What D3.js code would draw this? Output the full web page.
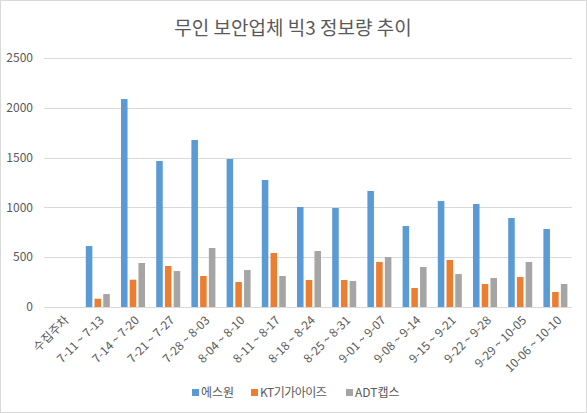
<!DOCTYPE html>
<html>
<head>
<meta charset="utf-8">
<script src="https://cdn.jsdelivr.net/npm/d3@7"></script>
<style>
  html, body { margin: 0; padding: 0; background: #fff; }
  svg { display: block; font-family: "Noto Sans CJK KR", "Noto Sans", sans-serif; }
</style>
</head>
<body>
<div id="chart"></div>
<script>
// weekly volume for the three security companies
const weeks = ["수집주차", "7-11 ~ 7-13", "7-14 ~ 7-20", "7-21 ~ 7-27", "7-28 ~ 8-03", "8-04 ~ 8-10",
  "8-11 ~ 8-17", "8-18 ~ 8-24", "8-25 ~ 8-31", "9-01 ~ 9-07", "9-08 ~ 9-14", "9-15 ~ 9-21",
  "9-22 ~ 9-28", "9-29 ~ 10-05", "10-06 ~ 10-10"];
const seriesNames = ["에스원", "KT기가아이즈", "ADT캡스"];
const s1 = [null, 612, 2088, 1466, 1677, 1486, 1275, 1004, 994, 1165, 813, 1064, 1034, 894, 783];
const kt = [null, 83, 274, 412, 311, 251, 542, 271, 271, 452, 191, 472, 231, 301, 151];
const adt = [null, 130, 442, 361, 592, 371, 311, 562, 261, 502, 402, 331, 291, 452, 231];
const yTicks = [0, 500, 1000, 1500, 2000, 2500];

(function() {
  const width = 587, height = 413;
  const margin = { top: 58, right: 15, bottom: 106, left: 44 };
  const colors = ["#5B9BD5", "#ED7D31", "#A5A5A5"];
  const allSeries = [s1, kt, adt];

  const svg = d3.select("#chart").append("svg")
    .attr("width", width)
    .attr("height", height);

  // chart border
  svg.append("rect")
    .attr("x", 0.5).attr("y", 0.5)
    .attr("width", width - 1).attr("height", height - 1)
    .attr("fill", "#fff")
    .attr("stroke", "#D9D9D9");

  svg.append("text")
    .attr("x", 293)
    .attr("y", 35)
    .attr("text-anchor", "middle")
    .style("font-size", "19px")
    .style("fill", "#595959")
    .text("무인 보안업체 빅3 정보량 추이");

  const x = d3.scaleBand()
    .domain(weeks)
    .range([margin.left, width - margin.right]);

  const y = d3.scaleLinear()
    .domain([0, 2500])
    .range([height - margin.bottom, margin.top]);

  const x1 = d3.scaleBand()
    .domain(d3.range(3))
    .range([0, 24])
    .paddingInner(0.25);

  // gridlines
  svg.append("g")
    .selectAll("line")
    .data(yTicks)
    .join("line")
    .attr("x1", margin.left)
    .attr("x2", width - margin.right)
    .attr("y1", d => Math.round(y(d)) + 0.5)
    .attr("y2", d => Math.round(y(d)) + 0.5)
    .attr("stroke", "#D9D9D9")
    .attr("stroke-width", 1);

  // y labels
  svg.append("g")
    .selectAll("text")
    .data(yTicks)
    .join("text")
    .attr("x", 33)
    .attr("y", d => y(d))
    .attr("dy", "0.35em")
    .attr("text-anchor", "end")
    .style("font-size", "12px")
    .style("fill", "#595959")
    .text(d => d);

  // bars
  const groupOffset = (x.bandwidth() - 24) / 2 + 1;
  allSeries.forEach((vals, si) => {
    svg.append("g")
      .selectAll("rect")
      .data(weeks.map((w, i) => ({ w, v: vals[i] })).filter(d => d.v != null))
      .join("rect")
      .attr("x", d => x(d.w) + groupOffset + x1(si))
      .attr("width", x1.bandwidth())
      .attr("y", d => y(d.v))
      .attr("height", d => y(0) - y(d.v))
      .attr("fill", colors[si]);
  });

  // x labels, rotated
  svg.append("g")
    .selectAll("text")
    .data(weeks)
    .join("text")
    .attr("transform", d => `translate(${x(d) + x.bandwidth() / 2 + 5}, ${y(0) + 11}) rotate(-45)`)
    .attr("text-anchor", "end")
    .attr("dy", "0.35em")
    .style("font-size", "12px")
    .style("fill", "#595959")
    .text(d => d);

  // legend
  const legendX = [192, 251, 346];
  const legend = svg.append("g");
  seriesNames.forEach((name, i) => {
    legend.append("rect")
      .attr("x", legendX[i])
      .attr("y", 389)
      .attr("width", 7)
      .attr("height", 7)
      .attr("fill", colors[i]);
    legend.append("text")
      .attr("x", legendX[i] + 9)
      .attr("y", 393)
      .attr("dy", "0.35em")
      .style("font-size", "12px")
      .style("letter-spacing", i === 1 ? "-0.5px" : "0")
      .style("fill", "#595959")
      .text(name);
  });
})();
</script>
</body>
</html>
